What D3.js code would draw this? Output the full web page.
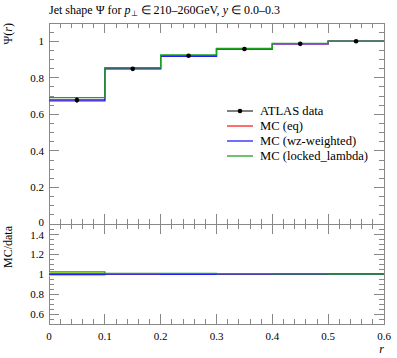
<!DOCTYPE html>
<html><head><meta charset="utf-8">
<script src="https://cdn.jsdelivr.net/npm/d3@7"></script>
<style>body{margin:0;background:#fff}svg{display:block}text{font-family:"Liberation Serif",serif;fill:#000}</style>
</head><body>
<script>
const binEdges = [0, 0.1, 0.2, 0.3, 0.4, 0.5, 0.6];
const dataVals = [0.678, 0.849, 0.921, 0.958, 0.986, 1.0];
const dataErr  = [0.015, 0.005, 0.004, 0.003, 0.002, 0.0];
const mcEq     = [0.680, 0.851, 0.921, 0.958, 0.986, 1.0];
const mcWz     = [0.674, 0.849, 0.918, 0.957, 0.986, 1.0];
const mcLocked = [0.692, 0.855, 0.926, 0.961, 0.988, 1.0];
const seriesNames = ["MC (eq)", "MC (wz-weighted)", "MC (locked_lambda)"];
const seriesColors = ["#ff2020", "#2020ff", "#20a020"];
const xTicks = [0, 0.1, 0.2, 0.3, 0.4, 0.5, 0.6];
const yMainTicks = [0, 0.2, 0.4, 0.6, 0.8, 1];
const yRatioTicks = [0.6, 0.8, 1, 1.2, 1.4];

const W = 397, H = 358;
const L = 49, R = 384, mainTop = 23, mainBot = 224, ratBot = 324;
const svg = d3.select("body").append("svg").attr("width", W).attr("height", H);
const x = d3.scaleLinear().domain([0, 0.6]).range([L, R]);
const yM = d3.scaleLinear().domain([0, 1.1]).range([mainBot, mainTop]);
const yR = d3.scaleLinear().domain([0.5, 1.5]).range([ratBot, mainBot]);
const axisCol = "#888";

function ticksFor(g, ys, top, bot, yMinor) {
  d3.range(0, 0.6001, 0.02).forEach(v => {
    const major = xTicks.some(t => Math.abs(t - v) < 1e-6);
    const len = major ? 10 : 5;
    g.append("line").attr("x1", x(v)).attr("x2", x(v)).attr("y1", bot).attr("y2", bot - len).attr("stroke", axisCol);
    g.append("line").attr("x1", x(v)).attr("x2", x(v)).attr("y1", top).attr("y2", top + len).attr("stroke", axisCol);
  });
  yMinor.forEach(v => {
    const major = ys.scaleTicks.some(t => Math.abs(t - v) < 1e-6);
    const len = major ? 10 : 5;
    const yy = ys.scale(v);
    g.append("line").attr("x1", L).attr("x2", L + len).attr("y1", yy).attr("y2", yy).attr("stroke", axisCol);
    g.append("line").attr("x1", R).attr("x2", R - len).attr("y1", yy).attr("y2", yy).attr("stroke", axisCol);
  });
}

const gAx = svg.append("g").attr("shape-rendering", "crispEdges");
ticksFor(gAx, {scale: yM, scaleTicks: yMainTicks}, mainTop, mainBot, d3.range(0, 1.1001, 0.05));
ticksFor(gAx, {scale: yR, scaleTicks: yRatioTicks}, mainBot, ratBot, d3.range(0.5, 1.5001, 0.05));
gAx.append("rect").attr("x", L).attr("y", mainTop).attr("width", R - L).attr("height", mainBot - mainTop)
  .attr("fill", "none").attr("stroke", axisCol);
gAx.append("rect").attr("x", L).attr("y", mainBot).attr("width", R - L).attr("height", ratBot - mainBot)
  .attr("fill", "none").attr("stroke", axisCol);

// tick labels
const fs = 11;
yMainTicks.forEach(v => svg.append("text").attr("x", 44).attr("y", yM(v) - (v === 0 ? 1.5 : 0)).attr("dy", "0.35em")
  .attr("text-anchor", "end").attr("font-size", fs).text(d3.format("")(v)));
yRatioTicks.forEach(v => svg.append("text").attr("x", 44).attr("y", yR(v) + (v === 1.4 ? 1.5 : 0)).attr("dy", "0.35em")
  .attr("text-anchor", "end").attr("font-size", fs).text(d3.format("")(v)));
xTicks.forEach(v => svg.append("text").attr("x", x(v)).attr("y", 340)
  .attr("text-anchor", "middle").attr("font-size", fs).text(d3.format("")(v)));

function stepLine(vals, yS) {
  const pts = [];
  vals.forEach((v, i) => { pts.push([binEdges[i], v]); pts.push([binEdges[i + 1], v]); });
  return d3.line().x(d => x(d[0])).y(d => yS(d[1]))(pts);
}
const mcSeries = [mcEq, mcWz, mcLocked];

// ratio band (data uncertainty)
dataVals.forEach((v, i) => {
  const rel = dataErr[i] / v;
  if (rel > 0) svg.append("rect").attr("x", x(binEdges[i])).attr("width", x(binEdges[i + 1]) - x(binEdges[i]))
    .attr("y", yR(1 + rel)).attr("height", yR(1 - rel) - yR(1 + rel)).attr("fill", "#ffff40");
});
svg.append("path").attr("d", stepLine(dataVals.map(() => 1), yR)).attr("fill", "none").attr("stroke", "#000").attr("stroke-width", 1);

mcSeries.forEach((s, k) => {
  svg.append("path").attr("d", stepLine(s, yM)).attr("fill", "none")
    .attr("stroke", seriesColors[k]).attr("stroke-width", 1.3);
  svg.append("path").attr("d", stepLine(s.map((v, i) => v / dataVals[i]), yR)).attr("fill", "none")
    .attr("stroke", seriesColors[k]).attr("stroke-width", 1.3);
});

// data points
dataVals.forEach((v, i) => {
  const cx = x((binEdges[i] + binEdges[i + 1]) / 2);
  svg.append("line").attr("x1", cx).attr("x2", cx).attr("y1", yM(v - dataErr[i])).attr("y2", yM(v + dataErr[i]))
    .attr("stroke", "#000").attr("stroke-width", 1);
  svg.append("circle").attr("cx", cx).attr("cy", yM(v)).attr("r", 2.3).attr("fill", "#000");
});

// legend
const lx1 = 227, lx2 = 253, tx = 260, lfs = 12.6;
const legY = [111, 126, 141, 156];
svg.append("line").attr("x1", lx1).attr("x2", lx2).attr("y1", legY[0]).attr("y2", legY[0]).attr("stroke", "#000");
svg.append("circle").attr("cx", (lx1 + lx2) / 2).attr("cy", legY[0]).attr("r", 2.3).attr("fill", "#000");
svg.append("text").attr("x", tx).attr("y", legY[0]).attr("dy", "0.35em").attr("font-size", lfs).text("ATLAS data");
seriesNames.forEach((n, k) => {
  svg.append("line").attr("x1", lx1).attr("x2", lx2).attr("y1", legY[k + 1]).attr("y2", legY[k + 1])
    .attr("stroke", seriesColors[k]).attr("stroke-width", 1.3);
  svg.append("text").attr("x", tx).attr("y", legY[k + 1]).attr("dy", "0.35em").attr("font-size", lfs).text(n);
});

// title
const t = svg.append("text").attr("x", 49).attr("y", 14).attr("font-size", 12);
t.append("tspan").text("Jet shape Ψ for ");
t.append("tspan").attr("font-style", "italic").text("p");
t.append("tspan").attr("font-size", 8).attr("dy", 2).text("⊥");
t.append("tspan").attr("dy", -2).text(" ∈ 210–260GeV, ");
t.append("tspan").attr("font-style", "italic").text("y");
t.append("tspan").text(" ∈ 0.0–0.3");

// axis labels
const yl = svg.append("text").attr("transform", "translate(12,23) rotate(-90)").attr("text-anchor", "end").attr("font-size", 12);
yl.append("tspan").text("Ψ(");
yl.append("tspan").attr("font-style", "italic").text("r");
yl.append("tspan").text(")");
svg.append("text").attr("transform", "translate(12,226) rotate(-90)").attr("text-anchor", "end").attr("font-size", 12).text("MC/data");
svg.append("text").attr("x", 384).attr("y", 353).attr("text-anchor", "end").attr("font-size", 12).attr("font-style", "italic").text("r");
</script>
</body></html>
